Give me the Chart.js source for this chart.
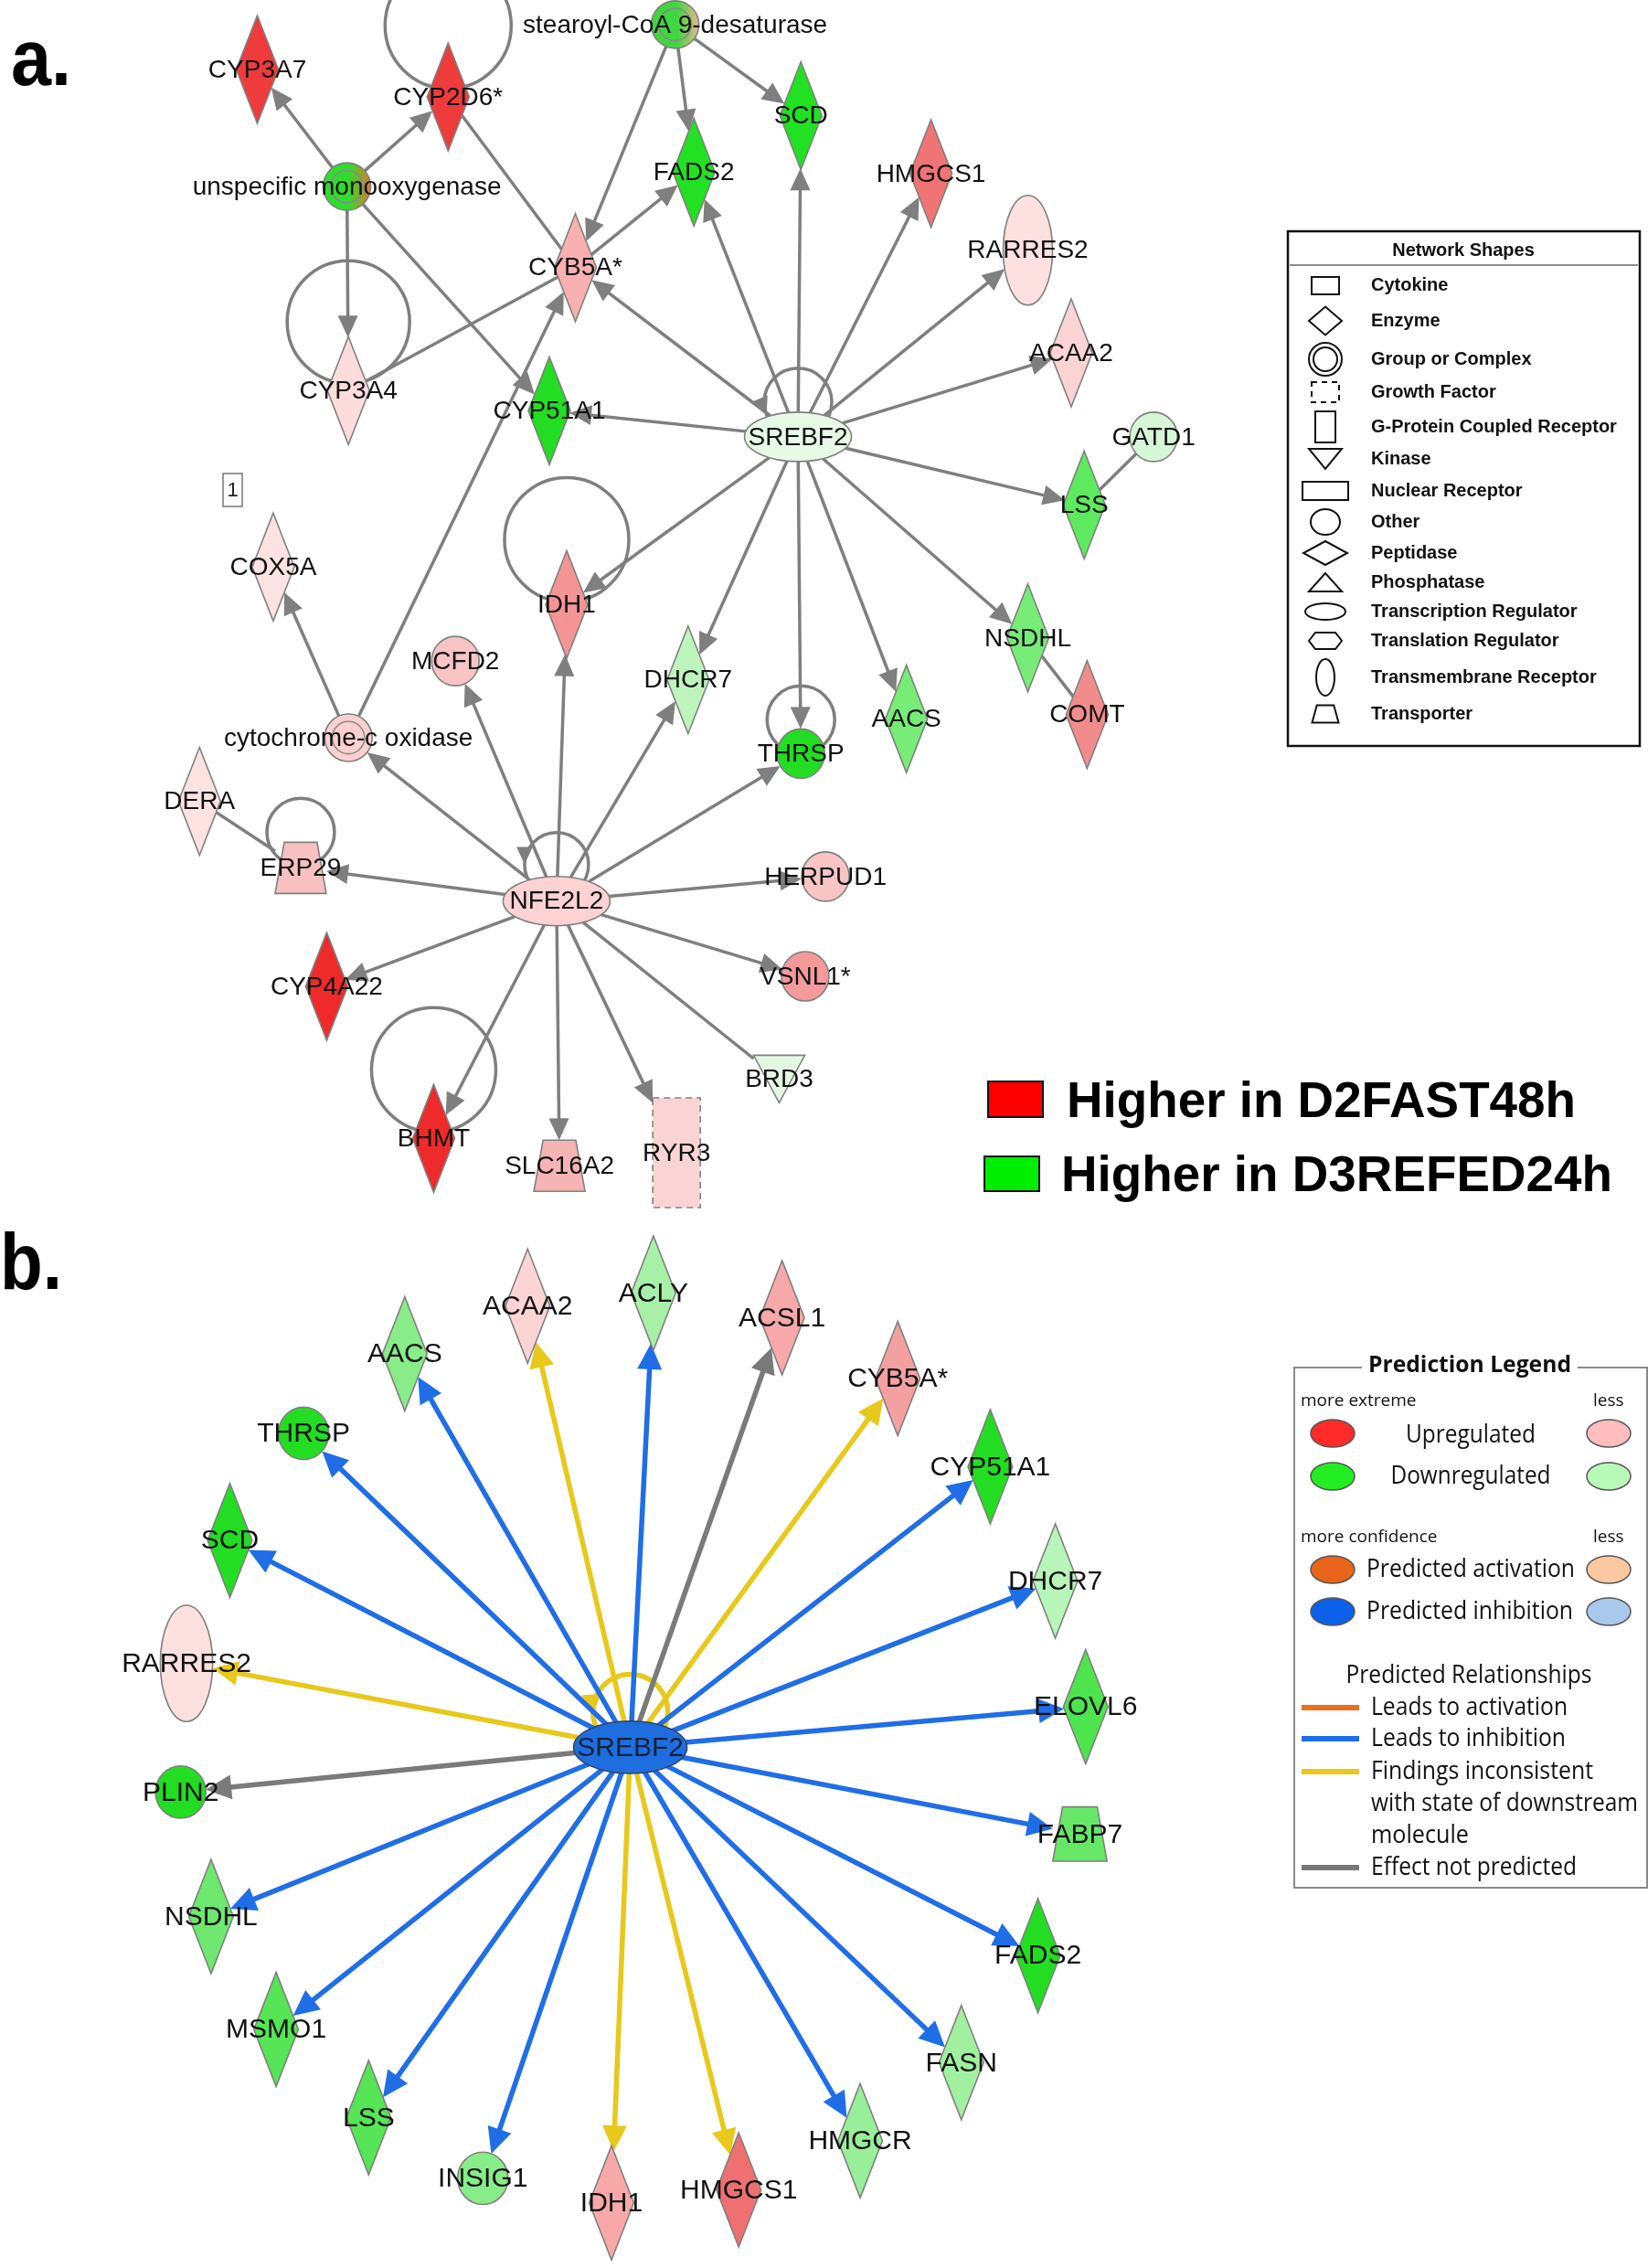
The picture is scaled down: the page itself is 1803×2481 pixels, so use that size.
<!DOCTYPE html>
<html>
<head>
<meta charset="utf-8">
<script src="https://cdn.jsdelivr.net/npm/chart.js@4.4.1/dist/chart.umd.min.js"></script>
<style>
  html, body { margin: 0; padding: 0; background: #fff; }
  canvas { display: block; }
</style>
</head>
<body>
<canvas id="net" width="1803" height="2481"></canvas>
<script>
// ---------------------------------------------
// Panel a: network nodes (x, y in figure units 0..1140 / 0..1568)
const namesA = ["CYP3A7", "CYP2D6*", "unspecific monooxygenase", "stearoyl-CoA 9-desaturase", "SCD", "FADS2",
  "HMGCS1", "RARRES2", "ACAA2", "SREBF2", "GATD1", "LSS", "NSDHL", "COMT", "AACS", "THRSP", "DHCR7",
  "CYB5A*", "CYP3A4", "CYP51A1", "IDH1", "MCFD2", "cytochrome-c oxidase", "COX5A", "DERA", "ERP29",
  "NFE2L2", "CYP4A22", "BHMT", "SLC16A2", "RYR3", "BRD3", "VSNL1*", "HERPUD1"];
const xA = [178, 310, 240, 467, 554, 480, 644, 711, 741, 552, 798, 750, 711, 752, 627, 554, 476,
  398, 241, 380, 392, 315, 241, 189, 138, 208, 385, 226, 300, 387, 468, 539, 557, 571];
const yA = [48, 67, 129, 17, 80, 119, 120, 173, 244, 302, 302, 349, 441, 494, 497, 521, 470,
  185, 270, 284, 418, 457, 510, 392, 554, 600, 623, 682, 787, 806, 797, 746, 675, 606];
const typesA = ["diamond", "diamond", "complex", "complex", "diamond", "diamond", "diamond", "tm", "diamond", "tr",
  "circle", "diamond", "diamond", "diamond", "diamond", "circle", "diamond", "diamond", "diamond", "diamond",
  "diamond", "circle", "complex", "diamond", "diamond", "transporter", "tr", "diamond", "diamond", "transporter",
  "growth", "kinase", "circle", "circle"];
const colorsA = ["#ef3b3b", "#ef3b3b", "#2fdc2f", "#3fd63f", "#22e022", "#22e022", "#f07474", "#fde0e0", "#fcd4d4", "#e6fae6",
  "#d6f7d6", "#5eea5e", "#77ec77", "#f28c8c", "#77ec77", "#22dd22", "#bdf5bd", "#f8b0b0", "#fddcdc", "#22dd22",
  "#f49494", "#f9c4c4", "#fbd0d0", "#fde2e2", "#fde2e2", "#f8c0c0", "#fcd2d2", "#ee2a2a", "#ee2a2a", "#f6b4b4",
  "#fad4d4", "#e2f8e2", "#f49a9a", "#f8c4c4"];
const rimA = { "unspecific monooxygenase": "#e0782c", "stearoyl-CoA 9-desaturase": "#e8b890" };

// edges: [from, to, arrow]
const edgesA = [
  ["unspecific monooxygenase", "CYP3A7", 1], ["unspecific monooxygenase", "CYP2D6*", 1],
  ["unspecific monooxygenase", "CYP3A4", 1], ["unspecific monooxygenase", "CYP51A1", 1],
  ["CYP2D6*", "CYB5A*", 0], ["stearoyl-CoA 9-desaturase", "CYB5A*", 1],
  ["stearoyl-CoA 9-desaturase", "FADS2", 1], ["stearoyl-CoA 9-desaturase", "SCD", 1],
  ["CYB5A*", "FADS2", 1], ["CYP3A4", "CYB5A*", 0],
  ["cytochrome-c oxidase", "CYB5A*", 1], ["cytochrome-c oxidase", "COX5A", 1],
  ["SREBF2", "CYB5A*", 1], ["SREBF2", "FADS2", 1], ["SREBF2", "SCD", 1], ["SREBF2", "HMGCS1", 1],
  ["SREBF2", "RARRES2", 1], ["SREBF2", "ACAA2", 1], ["SREBF2", "CYP51A1", 1], ["SREBF2", "LSS", 1],
  ["SREBF2", "NSDHL", 1], ["SREBF2", "AACS", 1], ["SREBF2", "THRSP", 1], ["SREBF2", "DHCR7", 1],
  ["SREBF2", "IDH1", 1],
  ["GATD1", "LSS", 0], ["NSDHL", "COMT", 0], ["DERA", "ERP29", 0],
  ["NFE2L2", "cytochrome-c oxidase", 1], ["NFE2L2", "MCFD2", 1], ["NFE2L2", "IDH1", 1],
  ["NFE2L2", "DHCR7", 1], ["NFE2L2", "THRSP", 1], ["NFE2L2", "HERPUD1", 1], ["NFE2L2", "VSNL1*", 1],
  ["NFE2L2", "BRD3", 0], ["NFE2L2", "RYR3", 1], ["NFE2L2", "SLC16A2", 1], ["NFE2L2", "BHMT", 1],
  ["NFE2L2", "CYP4A22", 1], ["NFE2L2", "ERP29", 1]
];
const selfLoopsA = ["CYP2D6*", "CYP3A4", "IDH1", "BHMT", "ERP29", "THRSP", "NFE2L2", "SREBF2"];

// ---------------------------------------------
// Panel b: SREBF2 targets
const namesB = ["SREBF2", "ACAA2", "ACLY", "ACSL1", "AACS", "THRSP", "SCD", "RARRES2", "PLIN2", "NSDHL",
  "MSMO1", "LSS", "INSIG1", "IDH1", "HMGCS1", "HMGCR", "FASN", "FADS2", "FABP7", "ELOVL6", "DHCR7",
  "CYP51A1", "CYB5A*"];
const xB = [436, 365, 452, 541, 280, 210, 159, 129, 125, 146, 191, 255, 334, 423, 511, 595, 665, 718, 747, 751, 730, 685, 621];
const yB = [1208, 903, 894, 911, 936, 991, 1065, 1150, 1239, 1325, 1403, 1464, 1506, 1523, 1514, 1480, 1426, 1352, 1268, 1180, 1093, 1014, 953];
const typesB = ["tr", "diamond", "diamond", "diamond", "diamond", "circle", "diamond", "tm", "circle", "diamond",
  "diamond", "diamond", "circle", "diamond", "diamond", "diamond", "diamond", "diamond", "transporter", "diamond",
  "diamond", "diamond", "diamond"];
const colorsB = ["#1e6ee0", "#fcd4d4", "#a8f0a8", "#f7a8a8", "#88ec88", "#22dd22", "#22dd22", "#fde0e0", "#22dd22", "#6ee86e",
  "#55e555", "#55e555", "#88ec88", "#f8a8a8", "#ee7070", "#99ee99", "#a0f0a0", "#22dd22", "#66e866", "#4ee44e",
  "#b8f5b8", "#22dd22", "#f5a0a0"];
// predicted effect of SREBF2 on each target
const effectB = ["", "inconsistent", "inhibition", "none", "inhibition", "inhibition", "inhibition", "inconsistent", "none", "inhibition",
  "inhibition", "inhibition", "inhibition", "inconsistent", "inconsistent", "inhibition", "inhibition", "inhibition", "inhibition", "inhibition",
  "inhibition", "inhibition", "inconsistent"];

// ---------------------------------------------
// styles
const SIZE = {
  diamond: [46, 118], circle: [52, 54], complex: [52, 52], tr: [117, 54], tm: [54, 120],
  transporter: [56, 56], kinase: [56, 52], growth: [52, 120]
};
const LOOP = { // offset above node, radius, arrow angle
  "CYP2D6*": [-78, 69, null], "CYP3A4": [-75, 67, null], "IDH1": [-71, 68, null], "BHMT": [-75, 68, null],
  "ERP29": [-39, 37, null], "THRSP": [-37, 37, null], "NFE2L2": [-40, 35, 180], "SREBF2": [-38, 37, 158]
};
const EFFECT_COLOR = { inhibition: "#1f6ee8", inconsistent: "#e8c81a", none: "#7a7a7a" };
const FONT = '"Liberation Sans", Arial, sans-serif';
const LFONT = '"Open Sans", "Noto Sans", sans-serif';

function edgeT(type, w, h, dx, dy) {
  const hw = w / 2, hh = h / 2, ax = Math.abs(dx) || 1e-9, ay = Math.abs(dy) || 1e-9;
  if (type === "diamond") return 1 / (ax / hw + ay / hh);
  if (type === "growth" || type === "transporter" || type === "kinase") return Math.min(hw / ax, hh / ay);
  return 1 / Math.sqrt((dx / hw) ** 2 + (dy / hh) ** 2);
}

function shapePath(ctx, type, x, y, w, h) {
  const hw = w / 2, hh = h / 2;
  ctx.beginPath();
  if (type === "diamond") {
    ctx.moveTo(x, y - hh); ctx.lineTo(x + hw, y); ctx.lineTo(x, y + hh); ctx.lineTo(x - hw, y); ctx.closePath();
  } else if (type === "transporter") {
    const tw = hw * 0.64;
    ctx.moveTo(x - tw, y - hh); ctx.lineTo(x + tw, y - hh); ctx.lineTo(x + hw, y + hh); ctx.lineTo(x - hw, y + hh); ctx.closePath();
  } else if (type === "kinase") {
    ctx.moveTo(x - hw, y - hh); ctx.lineTo(x + hw, y - hh); ctx.lineTo(x, y + hh); ctx.closePath();
  } else if (type === "growth") {
    ctx.rect(x - hw, y - hh, w, h);
  } else {
    ctx.ellipse(x, y, hw, hh, 0, 0, Math.PI * 2);
  }
}

function arrowHead(ctx, x, y, dx, dy, len, wid, col) {
  ctx.beginPath();
  ctx.moveTo(x, y);
  ctx.lineTo(x - dx * len - dy * wid / 2, y - dy * len + dx * wid / 2);
  ctx.lineTo(x - dx * len + dy * wid / 2, y - dy * len - dx * wid / 2);
  ctx.closePath();
  ctx.fillStyle = col;
  ctx.fill();
}

function drawNetwork(chart, di, names, types, fills, edges, loops, o) {
  const ctx = chart.ctx;
  const pts = chart.getDatasetMeta(di).data;
  const idx = {};
  names.forEach((n, i) => { idx[n] = i; });
  const sz = i => [SIZE[types[i]][0] * o.k, SIZE[types[i]][1] * o.k];

  // self loops
  loops.forEach(n => {
    const p = pts[idx[n]], L = o.loop[n];
    const cx = p.x, cy = p.y + L[0], r = L[1];
    ctx.beginPath();
    ctx.arc(cx, cy, r, 0, Math.PI * 2);
    ctx.strokeStyle = o.loopColor; ctx.lineWidth = o.lw;
    ctx.stroke();
    if (L[2] !== null) {
      const t = L[2] * Math.PI / 180;
      arrowHead(ctx, cx + r * Math.cos(t), cy + r * Math.sin(t), Math.sin(t), -Math.cos(t), o.alen * 0.8, o.awid * 0.8, o.loopColor);
    }
  });

  // edges
  edges.forEach(e => {
    const a = idx[e[0]], b = idx[e[1]];
    const p = pts[a], q = pts[b];
    let dx = q.x - p.x, dy = q.y - p.y;
    const d = Math.hypot(dx, dy); dx /= d; dy /= d;
    const [wa, ha] = sz(a), [wb, hb] = sz(b);
    const t0 = edgeT(types[a], wa, ha, dx, dy) * o.startFrac;
    const t1 = edgeT(types[b], wb, hb, dx, dy);
    const sx = p.x + dx * t0, sy = p.y + dy * t0;
    const ex = q.x - dx * t1, ey = q.y - dy * t1;
    ctx.beginPath();
    ctx.moveTo(sx, sy);
    ctx.lineTo(e[2] ? ex - dx * o.alen * 0.7 : ex, e[2] ? ey - dy * o.alen * 0.7 : ey);
    ctx.strokeStyle = e[3]; ctx.lineWidth = o.lw; ctx.lineCap = "butt";
    ctx.stroke();
    if (e[2]) arrowHead(ctx, ex, ey, dx, dy, o.alen, o.awid, e[3]);
  });

  // nodes
  names.forEach((n, i) => {
    const p = pts[i], [w, h] = sz(i), type = types[i];
    shapePath(ctx, type, p.x, p.y, w, h);
    if (o.rim && o.rim[n]) {
      const g = ctx.createLinearGradient(p.x - w / 2, p.y, p.x + w / 2, p.y);
      g.addColorStop(0, fills[i]); g.addColorStop(0.55, fills[i]); g.addColorStop(1, o.rim[n]);
      ctx.fillStyle = g;
    } else {
      ctx.fillStyle = fills[i];
    }
    ctx.fill();
    ctx.strokeStyle = o.nodeStroke[i] || "#808080";
    ctx.lineWidth = 1.6;
    if (type === "growth") ctx.setLineDash([7, 5]);
    ctx.stroke();
    ctx.setLineDash([]);
    if (type === "complex") {
      ctx.beginPath();
      ctx.ellipse(p.x, p.y, w * 0.34, h * 0.34, 0, 0, Math.PI * 2);
      ctx.strokeStyle = "#8a8a8a"; ctx.lineWidth = 1.6; ctx.stroke();
    }
  });

  // labels
  ctx.font = o.fs + "px " + FONT;
  ctx.textAlign = "center"; ctx.textBaseline = "middle";
  names.forEach((n, i) => {
    const p = pts[i];
    ctx.fillStyle = o.textColor[i] || "#111";
    ctx.fillText(n, p.x, p.y + 1);
  });
}

function drawLegends(ctx) {
  ctx.textBaseline = "middle";
  // panel letters
  ctx.fillStyle = "#000"; ctx.textAlign = "left";
  ctx.font = "bold 88px " + FONT;
  ctx.textBaseline = "alphabetic";
  ctx.fillText("a.", 12, 93, 66);
  ctx.fillText("b.", 0, 1410, 68);
  ctx.textBaseline = "middle";

  // boxed "1"
  ctx.strokeStyle = "#777"; ctx.lineWidth = 1.5;
  ctx.strokeRect(244, 518, 21, 36);
  ctx.fillStyle = "#222"; ctx.textAlign = "center"; ctx.font = "22px " + FONT;
  ctx.fillText("1", 254.5, 537);

  // Network Shapes legend
  ctx.strokeStyle = "#111"; ctx.lineWidth = 2.5;
  ctx.strokeRect(1409, 253, 385, 563);
  ctx.strokeStyle = "#666"; ctx.lineWidth = 1.5;
  ctx.beginPath(); ctx.moveTo(1411, 290); ctx.lineTo(1792, 290); ctx.stroke();
  ctx.fillStyle = "#111"; ctx.font = "bold 20px " + FONT; ctx.textAlign = "center";
  ctx.fillText("Network Shapes", 1601, 274);
  const shapeNames = ["Cytokine", "Enzyme", "Group or Complex", "Growth Factor", "G-Protein Coupled Receptor",
    "Kinase", "Nuclear Receptor", "Other", "Peptidase", "Phosphatase", "Transcription Regulator",
    "Translation Regulator", "Transmembrane Receptor", "Transporter"];
  const rows = [312, 351, 393, 429, 467, 502, 537, 571, 605, 637, 669, 701, 741, 781];
  ctx.font = "bold 20px " + FONT; ctx.textAlign = "left";
  shapeNames.forEach((s, i) => ctx.fillText(s, 1500, rows[i], 275));
  const cx = 1450;
  ctx.strokeStyle = "#111"; ctx.lineWidth = 2;
  const r = rows;
  ctx.strokeRect(cx - 15, r[0] - 9, 30, 19);
  shapePath(ctx, "diamond", cx, r[1], 36, 31); ctx.stroke();
  ctx.beginPath(); ctx.arc(cx, r[2], 18, 0, Math.PI * 2); ctx.stroke();
  ctx.beginPath(); ctx.arc(cx, r[2], 13, 0, Math.PI * 2); ctx.stroke();
  ctx.setLineDash([6, 5]); ctx.strokeRect(cx - 15, r[3] - 11, 30, 22); ctx.setLineDash([]);
  ctx.strokeRect(cx - 11, r[4] - 17, 22, 34);
  shapePath(ctx, "kinase", cx, r[5], 36, 22); ctx.stroke();
  ctx.strokeRect(cx - 25, r[6] - 10, 50, 20);
  ctx.beginPath(); ctx.ellipse(cx, r[7], 16, 14, 0, 0, Math.PI * 2); ctx.stroke();
  shapePath(ctx, "diamond", cx, r[8], 48, 26); ctx.stroke();
  ctx.beginPath(); ctx.moveTo(cx - 18, r[9] + 10); ctx.lineTo(cx + 18, r[9] + 10); ctx.lineTo(cx, r[9] - 10); ctx.closePath(); ctx.stroke();
  ctx.beginPath(); ctx.ellipse(cx, r[10], 22, 9, 0, 0, Math.PI * 2); ctx.stroke();
  ctx.beginPath(); ctx.moveTo(cx - 18, r[11]); ctx.lineTo(cx - 11, r[11] - 9); ctx.lineTo(cx + 11, r[11] - 9);
  ctx.lineTo(cx + 18, r[11]); ctx.lineTo(cx + 11, r[11] + 9); ctx.lineTo(cx - 11, r[11] + 9); ctx.closePath(); ctx.stroke();
  ctx.beginPath(); ctx.ellipse(cx, r[12], 10, 20, 0, 0, Math.PI * 2); ctx.stroke();
  shapePath(ctx, "transporter", cx, r[13], 29, 19); ctx.stroke();

  // Higher in legend
  ctx.lineWidth = 2; ctx.strokeStyle = "#111";
  ctx.fillStyle = "#ff0000"; ctx.fillRect(1081, 1183, 60, 39); ctx.strokeRect(1081, 1183, 60, 39);
  ctx.fillStyle = "#00ee00"; ctx.fillRect(1077, 1265, 60, 38); ctx.strokeRect(1077, 1265, 60, 38);
  ctx.fillStyle = "#000"; ctx.font = "bold 55px " + FONT; ctx.textAlign = "left"; ctx.textBaseline = "alphabetic";
  ctx.fillText("Higher in D2FAST48h", 1167, 1222, 557);
  ctx.fillText("Higher in D3REFED24h", 1161, 1303, 603);
  ctx.textBaseline = "middle";

  // Prediction legend
  ctx.strokeStyle = "#8a8a8a"; ctx.lineWidth = 2;
  ctx.beginPath();
  ctx.moveTo(1490, 1496); ctx.lineTo(1416, 1496); ctx.lineTo(1416, 2065); ctx.lineTo(1802, 2065);
  ctx.lineTo(1802, 1496); ctx.lineTo(1726, 1496); ctx.stroke();
  ctx.fillStyle = "#111"; ctx.textAlign = "center";
  ctx.font = "bold 25px " + LFONT;
  ctx.fillText("Prediction Legend", 1608, 1494, 222);
  ctx.textAlign = "left"; ctx.font = "19px " + LFONT;
  ctx.fillText("more extreme", 1423, 1533, 132);
  ctx.fillText("less", 1743, 1533, 34);
  ctx.fillText("more confidence", 1423, 1682, 163);
  ctx.fillText("less", 1743, 1682, 34);
  const ell = [[1568, "#ff2a2a", "#ffbdbd"], [1615, "#22ee22", "#b8f8b8"], [1717, "#e8641a", "#fcc8a0"], [1763, "#0a60e8", "#a8c8ec"]];
  ell.forEach(([y, c1, c2]) => {
    [[1458, c1], [1760, c2]].forEach(([x, c]) => {
      ctx.beginPath(); ctx.ellipse(x, y, 24, 15, 0, 0, Math.PI * 2);
      ctx.fillStyle = c; ctx.fill(); ctx.strokeStyle = "#555"; ctx.lineWidth = 1.5; ctx.stroke();
    });
  });
  ctx.fillStyle = "#111"; ctx.font = "27px " + LFONT; ctx.textAlign = "center";
  ctx.fillText("Upregulated", 1609, 1570, 142);
  ctx.fillText("Downregulated", 1609, 1615, 175);
  ctx.fillText("Predicted activation", 1609, 1717, 228);
  ctx.fillText("Predicted inhibition", 1608, 1763, 226);
  ctx.fillText("Predicted Relationships", 1607, 1833, 269);
  ctx.textAlign = "left";
  const rel = [[1868, "#e8701e", "Leads to activation", 215], [1902, "#1f6ee8", "Leads to inhibition", 213],
    [1938, "#e8c81a", "Findings inconsistent", 243], [1973, null, "with state of downstream", 292],
    [2008, null, "molecule", 107], [2043, "#777777", "Effect not predicted", 225]];
  rel.forEach(([y, c, t, w]) => {
    if (c) { ctx.fillStyle = c; ctx.fillRect(1424, y - 3, 63, 6); }
    ctx.fillStyle = "#111"; ctx.fillText(t, 1500, y, w);
  });
}

const networkPlugin = {
  id: "network",
  beforeDraw(chart) {
    const ctx = chart.ctx;
    ctx.save(); ctx.fillStyle = "#fff"; ctx.fillRect(0, 0, chart.width, chart.height); ctx.restore();
  },
  afterDatasetsDraw(chart) {
    const ctx = chart.ctx;
    ctx.save();
    const edgesAll = edgesA.map(e => [e[0], e[1], e[2], "#7f7f7f"]);
    drawNetwork(chart, 0, namesA, typesA, colorsA, edgesAll, selfLoopsA, {
      k: 1, lw: 3.5, alen: 24, awid: 22, startFrac: 1, fs: 28, loop: LOOP, loopColor: "#7f7f7f",
      rim: rimA, nodeStroke: [], textColor: []
    });
    const edgesAllB = namesB.slice(1).map((n, i) => ["SREBF2", n, 1, EFFECT_COLOR[effectB[i + 1]]]);
    drawNetwork(chart, 1, namesB, typesB, colorsB, edgesAllB, ["SREBF2"], {
      k: 1.06, lw: 5.5, alen: 28, awid: 27, startFrac: 0.8, fs: 30,
      loop: { "SREBF2": [-39, 41, 175] }, loopColor: "#e8c81a",
      rim: null, nodeStroke: ["#33435f"], textColor: ["#14223c"]
    });
    drawLegends(ctx);
    ctx.restore();
  }
};

new Chart(document.getElementById("net"), {
  type: "scatter",
  data: {
    datasets: [
      { label: "a", data: namesA.map((n, i) => ({ x: xA[i], y: yA[i] })), pointRadius: 0 },
      { label: "b", data: namesB.map((n, i) => ({ x: xB[i], y: yB[i] })), pointRadius: 0 }
    ]
  },
  options: {
    responsive: false,
    animation: false,
    devicePixelRatio: 1,
    events: [],
    layout: { padding: 0 },
    plugins: { legend: { display: false }, tooltip: { enabled: false } },
    scales: {
      x: { type: "linear", min: 0, max: 1140, display: false },
      y: { type: "linear", min: 0, max: 1568, reverse: true, display: false }
    }
  },
  plugins: [networkPlugin]
});
</script>
</body>
</html>
